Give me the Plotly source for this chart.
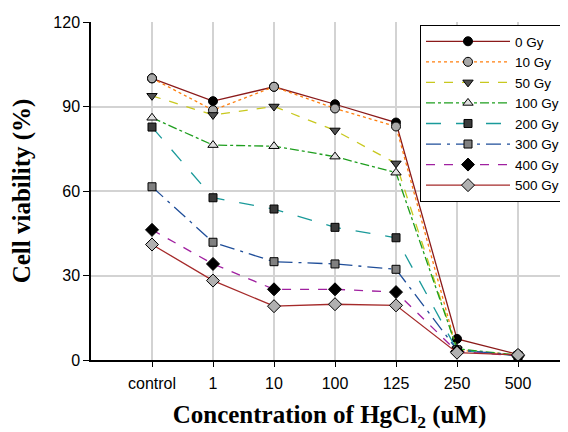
import plotly.graph_objects as go

categories = ["control", "1", "10", "100", "125", "250", "500"]
series_names = ["0 Gy", "10 Gy", "50 Gy", "100 Gy", "200 Gy", "300 Gy", "400 Gy", "500 Gy"]
v0 = [100.0, 91.9, 97.0, 90.8, 84.3, 7.5, 2.0]
v10 = [100.0, 88.7, 97.0, 89.3, 82.9, 3.5, 1.8]
v50 = [93.8, 87.0, 90.0, 81.5, 69.8, 3.8, 1.6]
v100 = [86.0, 76.3, 75.9, 72.2, 66.5, 4.0, 1.7]
v200 = [82.7, 57.6, 53.6, 47.1, 43.4, 3.5, 1.5]
v300 = [61.5, 41.8, 34.9, 34.1, 32.2, 3.6, 1.6]
v400 = [46.2, 34.1, 25.1, 25.1, 24.1, 3.0, 1.5]
v500 = [41.0, 28.2, 19.1, 19.8, 19.4, 2.6, 1.8]
values = [v0, v10, v50, v100, v200, v300, v400, v500]

line_colors = ["#8B1A1A", "#FF7F0E", "#C8C81E", "#1E9E1E", "#1A9A9A", "#1F4E99", "#A020A0", "#A52A2A"]
dashes = ["solid", "dot", "dash", "dashdot", "longdash", "longdashdot", "dash", "solid"]
symbols = ["circle", "circle", "triangle-down", "triangle-up", "square", "square", "diamond", "diamond"]
sizes = [9, 9, 9, 9, 8, 8, 10, 10]
fills = ["#000000", "#A8A8A8", "#505050", "#E0E0E0", "#3A3A3A", "#808080", "#000000", "#B0B0B0"]

xpos = list(range(1, len(categories) + 1))

fig = go.Figure()
for name, vals, lc, dsh, sym, sz, fc in zip(series_names, values, line_colors, dashes, symbols, sizes, fills):
    fig.add_trace(go.Scatter(
        x=xpos, y=vals, name=name, mode="lines+markers",
        line=dict(color=lc, width=1.3, dash=dsh),
        marker=dict(symbol=sym, size=sz, color=fc, line=dict(color="#000000", width=1)),
    ))

# page body has an 8px default margin, so the figure is 8px smaller and shifted
fig.update_layout(
    width=560, height=424,
    margin=dict(l=83, r=0, t=14, b=72),
    paper_bgcolor="white", plot_bgcolor="white",
    font=dict(family="Arial, Liberation Sans, sans-serif", size=16, color="black"),
    legend=dict(
        x=(420 - 91) / 477, y=(360 - 25) / 338, xanchor="left", yanchor="top",
        bordercolor="black", borderwidth=1, bgcolor="white",
        font=dict(size=13.5), tracegroupgap=0, itemwidth=84,
    ),
    xaxis=dict(
        range=[0, 477 / 61], tickmode="array", tickvals=xpos, ticktext=categories,
        showgrid=True, gridcolor="#D3D3D3", gridwidth=1.5, zeroline=False,
        showline=True, linecolor="black", linewidth=1.5,
        ticks="outside", ticklen=5, tickcolor="black", automargin=False,
        ticklabelstandoff=3,
        title=dict(text="<b>Concentration of HgCl<sub>2</sub> (uM)</b>",
                   font=dict(family="Liberation Serif, Times New Roman, serif", size=25),
                   standoff=23),
    ),
    yaxis=dict(
        range=[0, 120], tickvals=[0, 30, 60, 90, 120],
        showgrid=True, gridcolor="#D3D3D3", gridwidth=1.5, zeroline=False,
        showline=True, linecolor="black", linewidth=1.5,
        ticks="outside", ticklen=6, tickcolor="black", automargin=False,
        title=dict(text="<b>Cell viability (%)</b>",
                   font=dict(family="Liberation Serif, Times New Roman, serif", size=25),
                   standoff=18),
    ),
)

fig.write_html("out.html")
